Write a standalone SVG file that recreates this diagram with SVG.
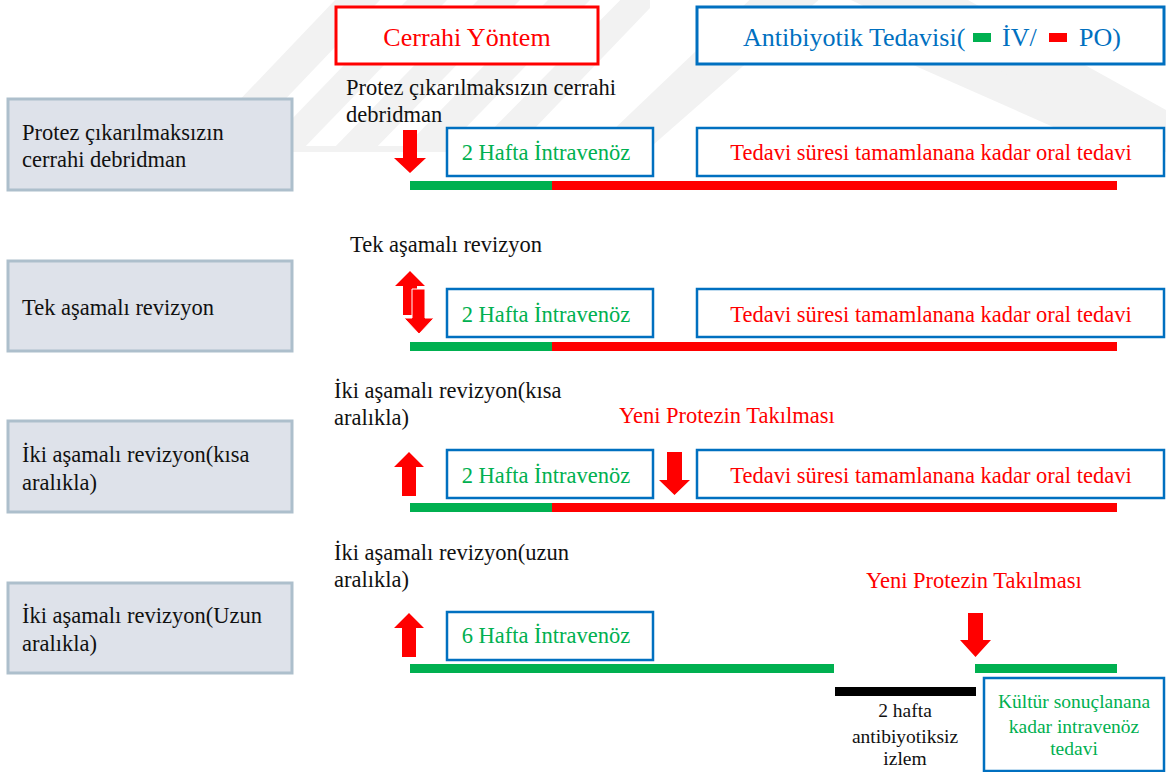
<svg xmlns="http://www.w3.org/2000/svg" width="1166" height="772" viewBox="0 0 1166 772" font-family="'Liberation Serif', 'Times New Roman', 'DejaVu Serif', serif">
<style>
text{font-family:'Liberation Serif','Times New Roman','DejaVu Serif',serif;}
.lbl{font-size:22.5px;fill:#111;}
.side{fill:#dee2ea;stroke:#adbfcc;stroke-width:3;}
.bbox{fill:#fff;stroke:#0070C0;stroke-width:2.5;}
.iv{font-size:22.5px;fill:#00B050;text-anchor:middle;}
.po{font-size:22.5px;fill:#FF0000;text-anchor:middle;}
.red{fill:#FF0000;}
.green{fill:#00B050;}
.arr{fill:#FF0000;}
.arrw{fill:#FF0000;stroke:#fff;stroke-width:1;}
.wm{fill:#f2f2f2;}
</style>
<g id="watermark">
<polygon class="wm" points="190,152 235,152 380,0 335,0"/>
<polygon class="wm" points="260,152 300,152 447,0 407,0"/>
<polygon class="wm" points="330,152 372,152 520,0 478,0"/>
<polygon class="wm" points="400,152 442,152 590,0 548,0"/>
<polygon class="wm" points="470,152 512,152 650,8 650,-30"/>
<polygon class="wm" points="190,152 560,152 560,146 196,146"/>
<polygon class="wm" points="590,152 645,152 793,12 930,0 1166,120 1166,152 1110,152 793,12 645,152"/>
<polygon class="wm" points="590,152 760,-10 830,-10 645,152"/>
<polygon class="wm" points="830,-10 950,-10 1166,110 1166,150"/>
</g>
<g id="header-cerrahi">
<rect x="336" y="7" width="262" height="57" fill="#fff" stroke="#FF0000" stroke-width="3"/>
<text x="467" y="46" font-size="26" fill="#FF0000" text-anchor="middle">Cerrahi Yöntem</text>
</g>
<g id="header-antibiyotik">
<rect x="697" y="7" width="467" height="57" fill="#fff" stroke="#0070C0" stroke-width="3"/>
<text x="743" y="46" font-size="26" fill="#0070C0">Antibiyotik Tedavisi(</text>
<rect x="973" y="33" width="18" height="9" class="green"/>
<text x="1002" y="46" font-size="26" fill="#0070C0">İV/</text>
<rect x="1049" y="33" width="18" height="9" class="red"/>
<text x="1079" y="46" font-size="26" fill="#0070C0">PO)</text>
</g>
<g id="side1"><rect class="side" x="8" y="99" width="284" height="91"/>
<text class="lbl" x="22" y="140">Protez çıkarılmaksızın</text>
<text class="lbl" x="22" y="167">cerrahi debridman</text></g>
<g id="side2"><rect class="side" x="8" y="261" width="284" height="90"/>
<text class="lbl" x="22" y="315">Tek aşamalı revizyon</text></g>
<g id="side3"><rect class="side" x="8" y="421" width="284" height="91"/>
<text class="lbl" x="22" y="462">İki aşamalı revizyon(kısa</text>
<text class="lbl" x="22" y="490">aralıkla)</text></g>
<g id="side4"><rect class="side" x="8" y="583" width="284" height="90"/>
<text class="lbl" x="22" y="623">İki aşamalı revizyon(Uzun</text>
<text class="lbl" x="22" y="651">aralıkla)</text></g>
<g id="row1">
<text class="lbl" x="346" y="95">Protez çıkarılmaksızın  cerrahi</text>
<text class="lbl" x="346" y="122">debridman</text>
<rect class="bbox" x="447" y="128" width="206" height="48"/>
<text class="iv" x="546" y="160">2 Hafta  İntravenöz</text>
<rect class="bbox" x="697" y="128" width="467" height="48"/>
<text class="po" x="931" y="160">Tedavi süresi tamamlanana kadar oral tedavi</text>
<rect class="green" x="410" y="181" width="142" height="9"/>
<rect class="red" x="552" y="181" width="565" height="9"/>
</g>
<g id="row2">
<text class="lbl" x="350" y="252">Tek aşamalı revizyon</text>
<rect class="bbox" x="447" y="289" width="206" height="48"/>
<text class="iv" x="546" y="322">2 Hafta  İntravenöz</text>
<rect class="bbox" x="697" y="289" width="467" height="48"/>
<text class="po" x="931" y="322">Tedavi süresi tamamlanana kadar oral tedavi</text>
<rect class="green" x="410" y="342" width="142" height="9"/>
<rect class="red" x="552" y="342" width="565" height="9"/>
</g>
<g id="row3">
<text class="lbl" x="334" y="398">İki aşamalı revizyon(kısa</text>
<text class="lbl" x="334" y="425">aralıkla)</text>
<text x="619" y="423" font-size="22.5" fill="#FF0000">Yeni Protezin Takılması</text>
<rect class="bbox" x="447" y="450" width="206" height="48"/>
<text class="iv" x="546" y="483">2 Hafta  İntravenöz</text>
<rect class="bbox" x="697" y="450" width="467" height="48"/>
<text class="po" x="931" y="483">Tedavi süresi tamamlanana kadar oral tedavi</text>
<rect class="green" x="410" y="503" width="142" height="9"/>
<rect class="red" x="552" y="503" width="565" height="9"/>
</g>
<g id="row4">
<text class="lbl" x="334" y="560">İki aşamalı revizyon(uzun</text>
<text class="lbl" x="334" y="587">aralıkla)</text>
<text x="866" y="588" font-size="22.5" fill="#FF0000">Yeni Protezin Takılması</text>
<rect class="bbox" x="447" y="612" width="206" height="48"/>
<text class="iv" x="546" y="643">6 Hafta  İntravenöz</text>
<rect class="green" x="410" y="664" width="424" height="9"/>
<rect class="green" x="975" y="664" width="142" height="9"/>
<rect x="835" y="687" width="141" height="9" fill="#000"/>
<text x="905" y="717" font-size="19.5" fill="#111" text-anchor="middle">2 hafta</text>
<text x="905" y="743" font-size="19.5" fill="#111" text-anchor="middle">antibiyotiksiz</text>
<text x="905" y="765" font-size="19.5" fill="#111" text-anchor="middle">izlem</text>
</g>
<g id="kultur-box">
<rect class="bbox" x="984" y="678" width="180" height="93"/>
<text x="1074" y="708" font-size="19.5" fill="#00B050" text-anchor="middle">Kültür sonuçlanana</text>
<text x="1074" y="733" font-size="19.5" fill="#00B050" text-anchor="middle">kadar intravenöz</text>
<text x="1074" y="755" font-size="19.5" fill="#00B050" text-anchor="middle">tedavi</text>
</g>
<g id="connectors">
<path class="arr" d="M403,130 H417 V158 H426 L410,173 L394,158 H403 Z"/>
<path class="arr" d="M410,271 L425,286 H417 V315 H403 V286 H395 Z"/>
<path class="arrw" d="M412,289 H425 V318 H434 L419,334 L404,318 H412 Z"/>
<path class="arr" d="M409,452 L424,467 H416 V496 H402 V467 H394 Z"/>
<path class="arr" d="M667,452 H682 V480 H690 L674.5,495 L659,480 H667 Z"/>
<path class="arr" d="M409,613 L424,628 H416 V657 H402 V628 H394 Z"/>
<path class="arr" d="M968,613 H983 V640 H991 L975.5,657 L960,640 H968 Z"/>
</g>
</svg>
